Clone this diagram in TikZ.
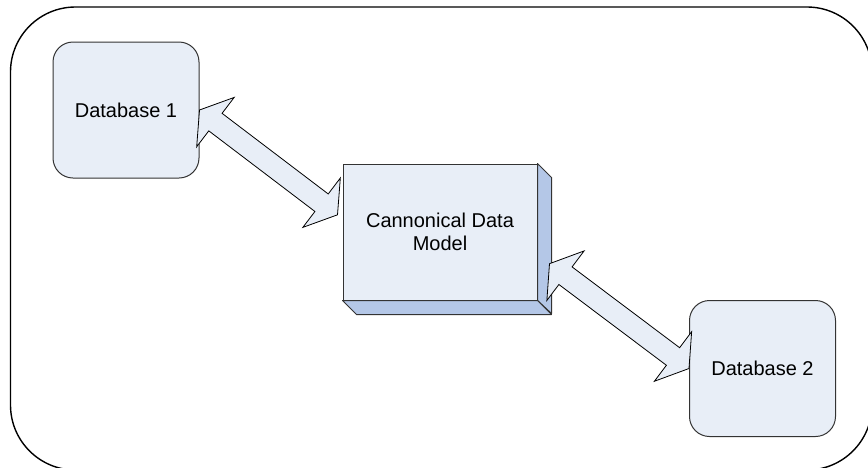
\documentclass[tikz,border=0pt]{standalone}
\usepackage{fontspec}
\setmainfont{Liberation Sans}
\usetikzlibrary{calc}
\definecolor{boxblue}{RGB}{232,238,247}
\definecolor{shadeblue}{RGB}{180,199,231}

% two-headed block arrow between two named points
\newcommand{\dblarrow}[2]{%
  \draw[flow] (#1)
    -- ($(#1)!10pt!(#2)!15.5pt!90:(#2)$)
    -- ($(#1)!10pt!(#2)!5.5pt!90:(#2)$)
    -- ($(#2)!10pt!(#1)!5.5pt!-90:(#1)$)
    -- ($(#2)!10pt!(#1)!15.5pt!-90:(#1)$)
    -- (#2)
    -- ($(#2)!10pt!(#1)!15.5pt!90:(#1)$)
    -- ($(#2)!10pt!(#1)!5.5pt!90:(#1)$)
    -- ($(#1)!10pt!(#2)!5.5pt!-90:(#2)$)
    -- ($(#1)!10pt!(#2)!15.5pt!-90:(#2)$)
    -- cycle;
}

\begin{document}
\begin{tikzpicture}[x=0.5pt, y=-0.5pt,
  dbbox/.style={draw=black!80, line width=0.5pt, fill=boxblue, rounded corners=10pt,
    minimum width=73pt, minimum height=68pt, inner sep=0pt},
  cdmbox/.style={draw=black!80, line width=0.5pt, fill=boxblue, align=center,
    minimum width=97pt, minimum height=68pt, inner sep=0pt,
    font=\fontsize{10}{11.5}\selectfont},
  face/.style={draw=black!80, line width=0.5pt, fill=shadeblue, line join=round},
  flow/.style={draw=black, line width=0.4pt, fill=boxblue, line join=miter}]
\useasboundingbox (0,0) rectangle (868,467);

% Frame
\draw[line width=0.7pt, rounded corners=32.5pt] (10.5,7) rectangle (872,470);

% Databases
\node[dbbox] (db1) at (126,110) {Database 1};
\node[dbbox] (db2) at (762.5,368.5) {Database 2};

% Canonical model box with its depth faces
\node[cdmbox] (cdm) at (440,232) {Cannonical Data\\Model};
\draw[face] (cdm.north east) -- ++(14,14) -- ++(0,136) -- (cdm.south east) -- cycle;
\draw[face] (cdm.south west) -- (cdm.south east) -- ++(14,14)
  -- ($(cdm.south west)+(14,14)$) -- cycle;

% Arrows
\coordinate (cdmin) at ($(cdm.170)+(-2.5pt,0)$);
\coordinate (cdmout) at ($(cdm.-18)+(6pt,0)$);
\dblarrow{db1.east}{cdmin}
\dblarrow{cdmout}{db2.west}
\end{tikzpicture}
\end{document}
